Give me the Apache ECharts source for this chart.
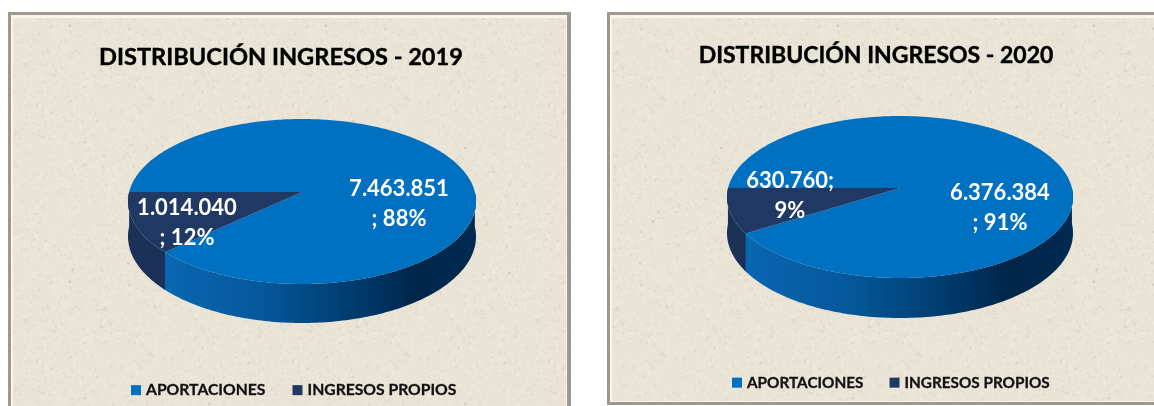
<!DOCTYPE html>
<html>
<head>
<meta charset="utf-8">
<title>Distribución ingresos</title>
<script src="https://cdn.jsdelivr.net/npm/echarts@6/dist/echarts.min.js"></script>
<style>
    html, body { margin: 0; padding: 0; background: #fff; overflow: hidden; }
    #main { width: 1154px; height: 406px; filter: blur(0.45px); }
</style>
</head>
<body>
<div id="main"></div>
<script>
var categories = ['APORTACIONES', 'INGRESOS PROPIOS'];
var years = ['2019', '2020'];
var valores2019 = [7463851, 1014040];
var valores2020 = [6376384, 630760];
var sliceColors = ['#0070c0', '#1f3864'];

// where each pie sits on the page (apexY is the pie centre, it is behind the middle of the ellipse)
var pies = [
    { cx: 302, apexY: 192, front: 92, back: 73, halfWidth: 174, depth: 39, wallLeft: 168, wallRight: 476 },
    { cx: 900, apexY: 188, front: 90, back: 72, halfWidth: 173, depth: 40, wallLeft: 748, wallRight: 1073 }
];
// label anchors: pie index, then slice index
var labelPos = [
    [{ x: 399, y: 189 }, { x: 187, y: 208 }],
    [{ x: 1000, y: 193 }, { x: 790, y: 181 }]
];
var labelFont = 'Lato, "Open Sans", sans-serif';

var chart = echarts.init(document.getElementById('main'));

function formatValue(v) {
    return String(v).replace(/\B(?=(\d{3})+$)/g, '.');
}

// Excel breaks the data label on its own: value then "; pct", or "value;" then pct when it fits
function labelLines(value, total, semicolonFirst) {
    var pct = Math.round(value / total * 100) + '%';
    if (semicolonFirst) {
        return [formatValue(value) + ';', pct];
    }
    return [formatValue(value), '; ' + pct];
}

// perspective of the tilted disc, angle in degrees, 180 = left, 90 = front
function makeProjector(pie) {
    var h = 2 / (1 / pie.front + 1 / pie.back);
    var k = 1 - h / pie.front;
    var r = pie.halfWidth * Math.sqrt(1 - k * k);
    return function (deg, drop) {
        var a = deg * Math.PI / 180;
        var w = 1 - k * Math.sin(a);
        var d = drop ? pie.depth * (1 - k) / w : 0;
        return [pie.cx + r * Math.cos(a) / w, pie.apexY + h * Math.sin(a) / w + d];
    };
}

function wallPoints(project, from, to) {
    var pts = [];
    var bottom = [];
    for (var deg = from; deg <= to; deg++) {
        pts.push(project(deg, false));
        bottom.unshift(project(deg, true));
    }
    return pts.concat(bottom);
}

function makeRender(pieIndex, sliceIndex, values) {
    var pie = pies[pieIndex];
    var project = makeProjector(pie);
    var total = values[0] + values[1];

    return function (params, api) {
        var value = api.value(0);
        var before = api.value(1);
        var start = 180 + before / total * 360;
        var end = start + value / total * 360;
        var children = [];

        // side wall, only the part of the rim that faces us
        for (var turn = 0; turn <= 360; turn += 360) {
            var from = Math.max(start, turn);
            // run a little under the next slice so no seam shows
            var to = Math.min(end + 2, turn + 180);
            if (to - from > 2.5) {
                var wallFill = sliceIndex === 0 ? {
                    type: 'linear', x: pie.wallLeft, y: 0, x2: pie.wallRight, y2: 0, global: true,
                    colorStops: [
                        { offset: 0, color: '#0a66b0' },
                        { offset: 0.3, color: '#05589c' },
                        { offset: 0.6, color: '#003c6e' },
                        { offset: 0.8, color: '#00264a' },
                        { offset: 1, color: '#002a50' }
                    ]
                } : '#1c3157';
                children.push({
                    type: 'polygon',
                    shape: { points: wallPoints(project, from, to) },
                    style: { fill: wallFill }
                });
            }
        }

        // top face
        var top = [[pie.cx, pie.apexY]];
        for (var deg = start; deg < end; deg++) {
            top.push(project(deg, false));
        }
        top.push(project(end, false));
        children.push({
            type: 'polygon',
            shape: { points: top },
            style: { fill: sliceColors[sliceIndex] }
        });

        var lines = labelLines(value, total, pieIndex === 1 && sliceIndex === 1);
        var pos = labelPos[pieIndex][sliceIndex];
        lines.forEach(function (line, i) {
            children.push({
                type: 'text',
                style: {
                    x: pos.x,
                    y: pos.y + i * 29.5,
                    text: line,
                    fill: '#ffffff',
                    font: 'bold 22px ' + labelFont,
                    textAlign: 'center',
                    textVerticalAlign: 'middle'
                }
            });
        });

        return { type: 'group', children: children };
    };
}

function makeSeries(pieIndex, values) {
    return categories.map(function (name, i) {
        return {
            type: 'custom',
            name: name,
            coordinateSystem: 'none',
            silent: true,
            animation: false,
            itemStyle: { color: sliceColors[i] },
            renderItem: makeRender(pieIndex, i, values),
            data: [[values[i], i === 0 ? 0 : values[0]]]
        };
    });
}

// stone paper texture of the chart area, hashed so that it comes out the same every time
function makeTexture() {
    var size = 256;
    var c = document.createElement('canvas');
    c.width = size;
    c.height = size;
    var ctx = c.getContext('2d');
    ctx.fillStyle = '#eae4d7';
    ctx.fillRect(0, 0, size, size);
    var seed = 1234567;
    function next() {
        seed = (seed * 1103515245 + 12345) % 2147483648;
        return seed / 2147483648;
    }
    for (var i = 0; i < 3200; i++) {
        var x = next() * size;
        var y = next() * size;
        var s = 1 + next() * 1.6;
        var tone = next();
        ctx.fillStyle = tone < 0.45 ? 'rgba(185,172,148,0.16)' : (tone < 0.99 ? 'rgba(250,247,238,0.26)' : 'rgba(140,130,110,0.22)');
        ctx.fillRect(x, y, s, s);
    }
    return c;
}

function panel(x, y, width, height, texture) {
    return [
        { type: 'rect', z: 0, shape: { x: x, y: y, width: width, height: height }, style: { fill: '#9c9a90' } },
        { type: 'rect', z: 1, shape: { x: x + 3, y: y + 3, width: width - 7, height: height - 6 }, style: { fill: '#f9f6e9' } },
        { type: 'rect', z: 2, shape: { x: x + 5, y: y + 6, width: width - 10, height: height - 10 }, style: { fill: { image: texture, repeat: 'repeat' } } }
    ];
}

function titleStyle(size) {
    return { color: '#000000', fontFamily: labelFont, fontWeight: 'bold', fontSize: size, textBorderColor: '#000000', textBorderWidth: 0.4 };
}

function legendText(size) {
    return { color: '#111111', fontFamily: labelFont, fontWeight: 'bold', fontSize: size, textBorderColor: '#111111', textBorderWidth: 0.3 };
}

var texture = makeTexture();

var option = {
    animation: false,
    graphic: { elements: panel(8, 12, 563, 410, texture).concat(panel(607, 12, 570, 393, texture)) },
    title: [
        { text: 'DISTRIBUCIÓN INGRESOS - ' + years[0], left: 281, top: 45, padding: 0, textAlign: 'center', textStyle: titleStyle(23.6) },
        { text: 'DISTRIBUCIÓN INGRESOS - ' + years[1], left: 876, top: 44, padding: 0, textAlign: 'center', textStyle: titleStyle(23) }
    ],
    legend: [
        { left: 131, top: 382, padding: 0, icon: 'rect', itemWidth: 10, itemHeight: 10, itemGap: 27, selectedMode: false, data: categories, textStyle: legendText(15.7) },
        { left: 732, top: 375, padding: 0, icon: 'rect', itemWidth: 10, itemHeight: 10, itemGap: 26, selectedMode: false, data: categories, textStyle: legendText(15.3) }
    ],
    series: makeSeries(0, valores2019).concat(makeSeries(1, valores2020))
};

chart.setOption(option);
</script>
</body>
</html>
